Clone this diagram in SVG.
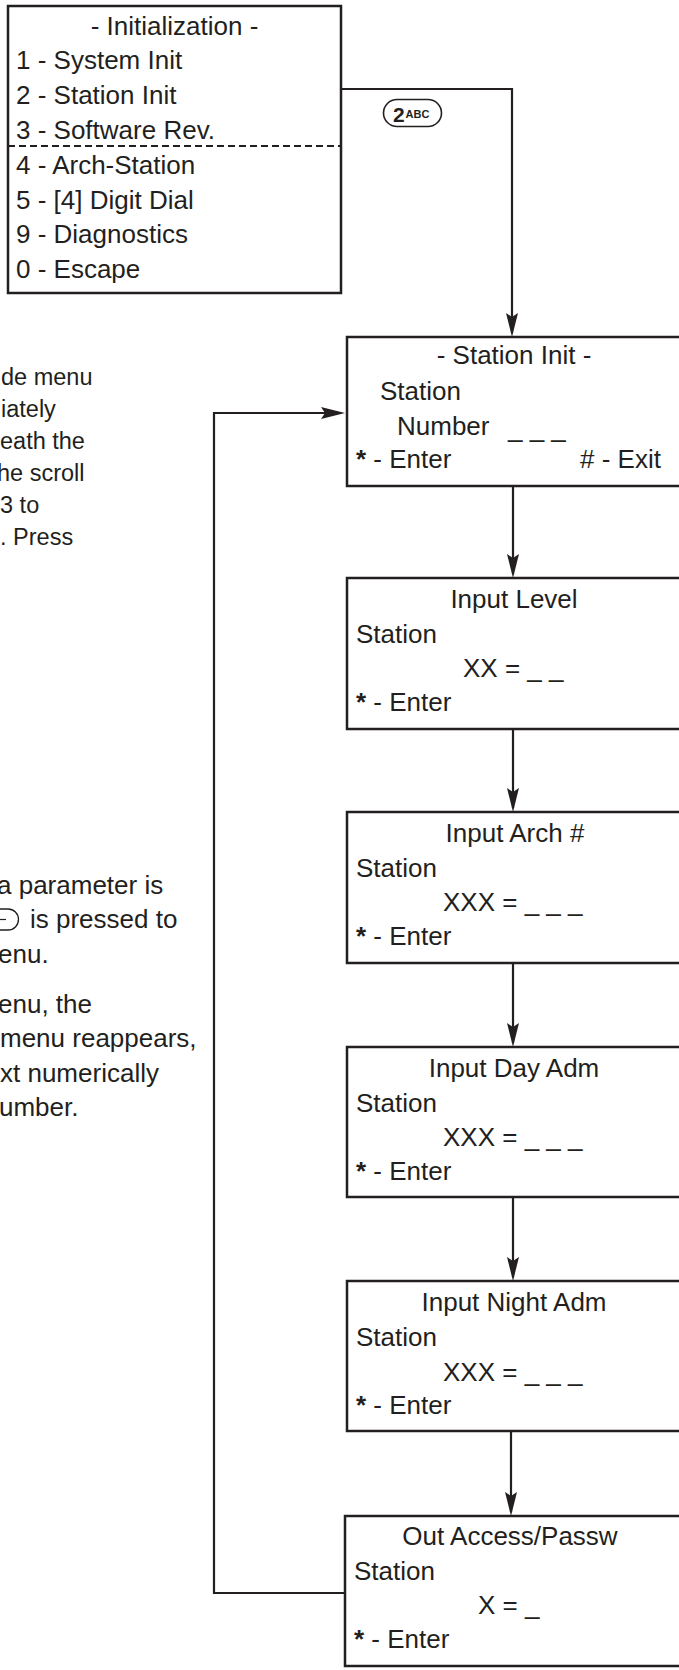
<svg xmlns="http://www.w3.org/2000/svg" width="679" height="1670" viewBox="0 0 679 1670">
<style>
text{font-family:"Liberation Sans",Arial,Helvetica,sans-serif;fill:#231f20}
.t{font-size:26px}
.n1{font-size:23.5px}
.n2{font-size:26px}
.c{text-anchor:middle}
.box{fill:#fff;stroke:#231f20;stroke-width:2.5}
.ln{fill:none;stroke:#231f20;stroke-width:2.2}
.b{font-weight:bold}
</style>
<defs>
<marker id="ah" markerUnits="userSpaceOnUse" markerWidth="26" markerHeight="14" refX="20" refY="6" orient="auto">
<path d="M0,0 L24,6 L0,12 L4,6 Z" fill="#231f20"/>
</marker>
</defs>
<rect width="679" height="1670" fill="#fff"/>

<g id="notes">
<text class="n1" x="1" y="385">de menu</text>
<text class="n1" x="1" y="417">iately</text>
<text class="n1" x="0" y="449">eath the</text>
<text class="n1" x="-3" y="481">he scroll</text>
<text class="n1" x="0" y="513">3 to</text>
<text class="n1" x="0" y="545">. Press</text>
<text class="n2" x="-3" y="894">a parameter is</text>
<path d="M0,909 H8 A10.5,10.5 0 0 1 8,930 H0" fill="none" stroke="#231f20" stroke-width="1.3"/>
<path d="M0,919.5 H6" fill="none" stroke="#231f20" stroke-width="1.2"/>
<text class="n2" x="30" y="928">is pressed to</text>
<text class="n2" x="-2" y="963">enu.</text>
<text class="n2" x="-2" y="1013">enu, the</text>
<text class="n2" x="0" y="1047">menu reappears,</text>
<text class="n2" x="0" y="1082">xt numerically</text>
<text class="n2" x="-1" y="1116">umber.</text>
</g>

<g id="connectors">
<path class="ln" d="M341,89 H512 V333" marker-end="url(#ah)"/>
<path class="ln" d="M513,487 V574" marker-end="url(#ah)"/>
<path class="ln" d="M513,730 V808" marker-end="url(#ah)"/>
<path class="ln" d="M513,964 V1043" marker-end="url(#ah)"/>
<path class="ln" d="M513,1198 V1277" marker-end="url(#ah)"/>
<path class="ln" d="M511,1432 V1512" marker-end="url(#ah)"/>
<path class="ln" d="M345,1593 H214 V413 H341" marker-end="url(#ah)"/>
</g>

<g id="key-2abc">
<rect x="383.5" y="99.5" width="58" height="27" rx="13.5" fill="#fff" stroke="#231f20" stroke-width="1.6"/>
<text x="393" y="122" font-size="21" class="b">2</text>
<text x="405.5" y="117.5" font-size="11" class="b">ABC</text>
</g>

<g id="initialization">
<rect class="box" x="8" y="6" width="333" height="287"/>
<line x1="8" y1="146" x2="341" y2="146" stroke="#231f20" stroke-width="2" stroke-dasharray="7 4"/>
<text class="t c" x="174.5" y="35">- Initialization -</text>
<text class="t" x="16" y="69">1 - System Init</text>
<text class="t" x="16" y="104">2 - Station Init</text>
<text class="t" x="16" y="139">3 - Software Rev.</text>
<text class="t" x="16" y="174">4 - Arch-Station</text>
<text class="t" x="16" y="209">5 - [4] Digit Dial</text>
<text class="t" x="16" y="243">9 - Diagnostics</text>
<text class="t" x="16" y="278">0 - Escape</text>
</g>

<g id="station-init">
<rect class="box" x="347" y="337" width="345" height="149"/>
<text class="t c" x="514" y="364">- Station Init -</text>
<text class="t" x="380" y="400">Station</text>
<text class="t" x="397" y="435">Number</text>
<text class="t" x="508" y="437">_ _ _</text>
<text class="t" x="356" y="468"><tspan class="b">*</tspan> - Enter</text>
<text class="t" x="580" y="468"># - Exit</text>
</g>

<g id="input-level">
<rect class="box" x="347" y="578" width="345" height="151"/>
<text class="t c" x="514" y="608">Input Level</text>
<text class="t" x="356" y="643">Station</text>
<text class="t" x="463" y="677">XX = _ _</text>
<text class="t" x="356" y="711"><tspan class="b">*</tspan> - Enter</text>
</g>

<g id="input-arch">
<rect class="box" x="347" y="812" width="345" height="151"/>
<text class="t c" x="515" y="842">Input Arch #</text>
<text class="t" x="356" y="877">Station</text>
<text class="t" x="443" y="911">XXX = _ _ _</text>
<text class="t" x="356" y="945"><tspan class="b">*</tspan> - Enter</text>
</g>

<g id="input-day-adm">
<rect class="box" x="347" y="1047" width="345" height="150"/>
<text class="t c" x="514" y="1077">Input Day Adm</text>
<text class="t" x="356" y="1112">Station</text>
<text class="t" x="443" y="1146">XXX = _ _ _</text>
<text class="t" x="356" y="1180"><tspan class="b">*</tspan> - Enter</text>
</g>

<g id="input-night-adm">
<rect class="box" x="347" y="1281" width="345" height="150"/>
<text class="t c" x="514" y="1311">Input Night Adm</text>
<text class="t" x="356" y="1346">Station</text>
<text class="t" x="443" y="1381">XXX = _ _ _</text>
<text class="t" x="356" y="1414"><tspan class="b">*</tspan> - Enter</text>
</g>

<g id="out-access">
<rect class="box" x="345" y="1516" width="347" height="150"/>
<text class="t c" x="510" y="1545">Out Access/Passw</text>
<text class="t" x="354" y="1580">Station</text>
<text class="t" x="478" y="1614">X = _</text>
<text class="t" x="354" y="1648"><tspan class="b">*</tspan> - Enter</text>
</g>
</svg>
